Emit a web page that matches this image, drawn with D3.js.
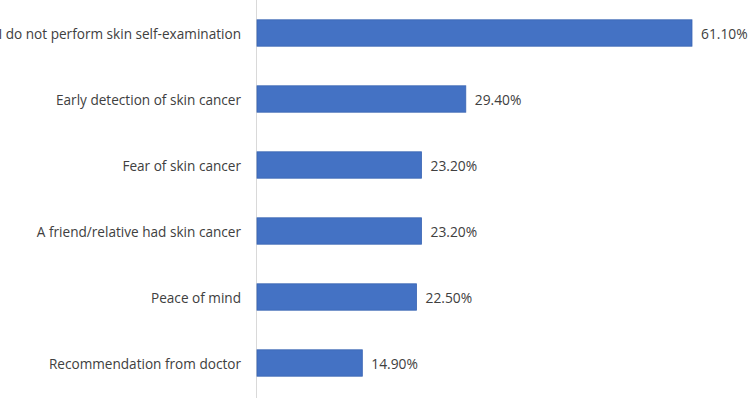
<!DOCTYPE html>
<html><head><meta charset="utf-8">
<script src="https://cdn.jsdelivr.net/npm/d3@7"></script>
<style>body{margin:0;background:#fff}svg{display:block}</style>
</head><body>
<svg id="c" width="750" height="398"></svg>
<script>
const categories = ["I do not perform skin self-examination","Early detection of skin cancer","Fear of skin cancer","A friend/relative had skin cancer","Peace of mind","Recommendation from doctor"];
const values = [61.1, 29.4, 23.2, 23.2, 22.5, 14.9];
const valueLabels = ["61.10%","29.40%","23.20%","23.20%","22.50%","14.90%"];

const svg = d3.select("#c");
const x0 = 256;
const x = d3.scaleLinear().domain([0, 61.1]).range([x0, 692]);
const y = d3.scaleBand().domain(categories).range([0, 396]).paddingInner(0.6).paddingOuter(0.3);

svg.append("line").attr("x1", x0 + 0.5).attr("x2", x0 + 0.5).attr("y1", 0).attr("y2", 398)
  .attr("stroke", "#d9d9d9").attr("stroke-width", 1);

svg.selectAll("rect.bar").data(categories).join("rect").attr("class","bar")
  .attr("x", x0 + 1).attr("y", d => y(d))
  .attr("width", (d,i) => x(values[i]) - x0 - 1).attr("height", y.bandwidth())
  .attr("fill", "#4472c4").attr("stroke", "#3a65b3").attr("stroke-width", 0.8);

const font = "'Open Sans', sans-serif";
svg.selectAll("text.cat").data(categories).join("text").attr("class","cat")
  .attr("x", 241).attr("y", d => y(d) + y.bandwidth()/2)
  .attr("text-anchor", "end").attr("dominant-baseline", "central")
  .attr("font-family", font).attr("font-size", 13.6).attr("fill", "#404040")
  .text(d => d);

svg.selectAll("text.val").data(categories).join("text").attr("class","val")
  .attr("x", (d,i) => x(values[i]) + 9).attr("y", d => y(d) + y.bandwidth()/2)
  .attr("dominant-baseline", "central")
  .attr("font-family", font).attr("font-size", 13.8).attr("fill", "#404040")
  .text((d,i) => valueLabels[i]);
</script>
</body></html>
